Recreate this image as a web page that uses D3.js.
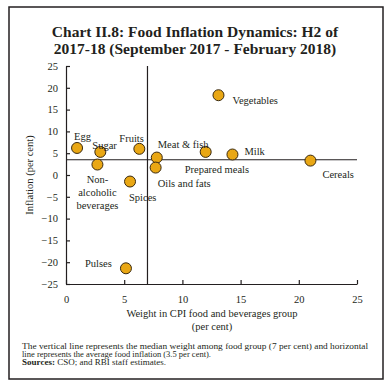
<!DOCTYPE html>
<html><head><meta charset="utf-8">
<script src="https://cdn.jsdelivr.net/npm/d3@7"></script>
<style>body{margin:0;background:#fff}svg{display:block}text{font-family:"Liberation Serif","DejaVu Serif",serif;fill:#231f20}</style>
</head><body><svg id="c" width="390" height="390"></svg>
<script>
const items = ["Egg","Sugar","Non-alcoholic beverages","Fruits","Spices","Meat & fish","Oils and fats","Vegetables","Prepared meals","Milk","Cereals","Pulses"];
const weights = [0.95, 2.95, 2.7, 6.3, 5.5, 7.8, 7.7, 13.1, 12.0, 14.3, 21.0, 5.15];
const inflation = [6.2, 5.3, 2.4, 6.0, -1.5, 4.0, 1.7, 18.3, 5.3, 4.7, 3.3, -21.4];
const xTicks = [0,5,10,15,20,25];
const yTicks = [25,20,15,10,5,0,-5,-10,-15,-20,-25];
const medianWeight = 7, avgInflation = 3.5;
const labelPos = {
  "Egg":[-3,-12,"start"], "Sugar":[-8,-7,"start"], "Non-alcoholic beverages":[0,14,"middle"],
  "Fruits":[-20,-11,"start"], "Spices":[-1,15,"start"], "Meat & fish":[1,-14,"start"],
  "Oils and fats":[2,15,"start"], "Vegetables":[14,5,"start"], "Prepared meals":[-21,17,"start"],
  "Milk":[12,-4,"start"], "Cereals":[12,13,"start"], "Pulses":[-41,-5,"start"]
};
const svg = d3.select("#c");
svg.append("rect").attr("x",9).attr("y",7).attr("width",374).attr("height",372).attr("fill","none").attr("stroke","#231f20").attr("stroke-width",1.5);
const title = svg.append("text").attr("text-anchor","middle").attr("font-weight","bold").attr("font-size",15.5);
title.append("tspan").attr("x",195).attr("y",37).text("Chart II.8: Food Inflation Dynamics: H2 of");
title.append("tspan").attr("x",195).attr("y",54).text("2017-18 (September 2017 - February 2018)");

const x = d3.scaleLinear().domain([0,25]).range([66,357]);
const y = d3.scaleLinear().domain([-25,25]).range([284,66]);
const xa = svg.append("g").attr("transform",`translate(0,${y(-25)})`).call(d3.axisBottom(x).tickValues(xTicks).tickSize(4).tickSizeOuter(0));
const ya = svg.append("g").attr("transform",`translate(${x(0)},0)`).call(d3.axisLeft(y).tickValues(yTicks).tickSize(4).tickSizeOuter(0));
[xa,ya].forEach(a=>{a.select(".domain").attr("stroke","#231f20").attr("stroke-width",1.2);a.selectAll("line").attr("stroke","#231f20").attr("stroke-width",1.2);a.selectAll("text").attr("font-size",10.5).attr("fill","#231f20").attr("font-family","Liberation Serif");});
xa.selectAll(".tick line").attr("y1",-4).attr("y2",0);
xa.selectAll("text").attr("dy","1.1em");
ya.selectAll(".tick line").attr("x1",0).attr("x2",4);
ya.selectAll("text").attr("x",-8);
svg.append("line").attr("x1",x(medianWeight)).attr("x2",x(medianWeight)).attr("y1",y(25)).attr("y2",y(-25)).attr("stroke","#231f20").attr("stroke-width",1.2);
svg.append("line").attr("x1",x(0)).attr("x2",x(25)).attr("y1",y(avgInflation)).attr("y2",y(avgInflation)).attr("stroke","#231f20").attr("stroke-width",1.2);
svg.append("text").attr("transform",`translate(33,${(y(25)+y(-25))/2}) rotate(-90)`).attr("text-anchor","middle").attr("font-size",10.5).text("Inflation (per cent)");
svg.append("text").attr("x",212).attr("y",317).attr("text-anchor","middle").attr("font-size",10.5).text("Weight in CPI food and beverages group");
svg.append("text").attr("x",212).attr("y",330).attr("text-anchor","middle").attr("font-size",10.5).text("(per cent)");
const data = items.map((n,i)=>({n,w:weights[i],v:inflation[i]}));
svg.selectAll("circle.p").data(data).enter().append("circle").attr("class","p")
  .attr("cx",d=>x(d.w)).attr("cy",d=>y(d.v)).attr("r",5.5).attr("fill","#E9A714").attr("stroke","#3a2a10").attr("stroke-width",1);
data.forEach(d=>{
  const p = labelPos[d.n];
  const t = svg.append("text").attr("font-size",10.5).attr("text-anchor",p[2]);
  const lines = d.n==="Non-alcoholic beverages" ? ["Non-","alcoholic","beverages"] : [d.n];
  lines.forEach((l,k)=>t.append("tspan").attr("x",x(d.w)+p[0]).attr("y",y(d.v)+p[1]+k*13+4).text(l));
});
svg.append("text").attr("x",22).attr("y",348.5).attr("font-size",8.4).attr("textLength",346).attr("lengthAdjust","spacingAndGlyphs").text("The vertical line represents the median weight among food group (7 per cent) and horizontal");
svg.append("text").attr("x",22).attr("y",356.5).attr("font-size",8.4).attr("textLength",189).attr("lengthAdjust","spacingAndGlyphs").text("line represents the average food inflation (3.5 per cent).");
const s = svg.append("text").attr("x",22).attr("y",364.5).attr("font-size",8.4).attr("textLength",144).attr("lengthAdjust","spacingAndGlyphs");
s.append("tspan").attr("font-weight","bold").text("Sources:");
s.append("tspan").text(" CSO; and RBI staff estimates.");
</script></body></html>
